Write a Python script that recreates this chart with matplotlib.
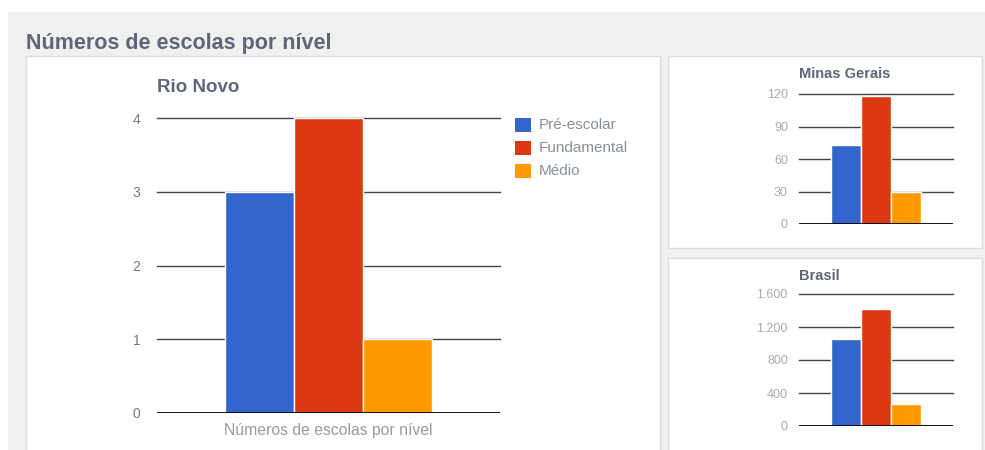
import matplotlib.pyplot as plt
from matplotlib.patches import Rectangle

# data
niveis = ['Pré-escolar', 'Fundamental', 'Médio']
cores = ['#3366cc', '#dc3912', '#ff9900']
rio_novo = [3, 4, 1]
minas_gerais = [73, 118, 30]
brasil = [1055, 1420, 265]
ticks_rio = [0, 1, 2, 3, 4]
ticks_mg = [0, 30, 60, 90, 120]
ticks_br = [0, 400, 800, 1200, 1600]
labels_br = ['0', '400', '800', '1.200', '1.600']

W, H = 985, 450
plt.rcParams['font.family'] = ['Liberation Sans', 'DejaVu Sans']
fig = plt.figure(figsize=(W / 100, H / 100), dpi=100)
fig.patch.set_facecolor('white')


def px_rect(x0, y0, x1, y1):
    # pixel box (top-left origin) -> figure fraction
    return [x0 / W, 1 - y1 / H, (x1 - x0) / W, (y1 - y0) / H]


def box(x0, y0, x1, y1, fc, ec='none', z=-1):
    l, b, w, h = px_rect(x0, y0, x1, y1)
    fig.patches.append(Rectangle((l, b), w, h, transform=fig.transFigure,
                                 facecolor=fc, edgecolor=ec, lw=1, zorder=z))


# background panels
box(8, 12, 985, 450, '#f0f0f0')
box(26, 56, 660, 452, 'white', '#dcdcdc')
box(668, 56, 982, 248, 'white', '#dcdcdc')
box(668, 258, 982, 452, 'white', '#dcdcdc')

fig.text(26 / W, 1 - 44 / H, 'Números de escolas por nível', fontsize=15.5,
         fontweight='bold', color='#5f6678', va='center', ha='left')


def bar_chart(rect, vals, ticks, tick_labels, title, title_y, xl, fs, tfs, tc, pad):
    ax = fig.add_axes(px_rect(*rect))
    ax.set_zorder(5)
    ax.set_facecolor('none')
    ax.bar(range(len(vals)), vals, width=1.0, color=cores,
           edgecolor='white', linewidth=1.0, zorder=2)
    ax.set_ylim(ticks[0], ticks[-1])
    ax.set_xlim(-xl, len(vals) - 1 + xl)
    ax.set_yticks(ticks)
    ax.set_yticklabels(tick_labels)
    ax.set_xticks([])
    for t in ticks[1:]:
        ax.axhline(t, color='#444444', lw=1.0, zorder=1, clip_on=False)
    ax.axhline(0, color='black', lw=1.3, zorder=3)
    for s in ax.spines.values():
        s.set_visible(False)
    ax.tick_params(axis='y', length=0, pad=pad, labelsize=fs, labelcolor=tc)
    fig.text(rect[0] / W, 1 - title_y / H, title, fontsize=tfs,
             fontweight='bold', color='#5f6678', va='center', ha='left')
    return ax


ax1 = bar_chart((157, 118, 500, 413), rio_novo, ticks_rio,
                [str(t) for t in ticks_rio], 'Rio Novo', 87, 1.48, 10, 13.5, '#777777', 12)
ax1.text(0.5, -0.06, 'Números de escolas por nível', transform=ax1.transAxes,
         ha='center', va='center', fontsize=11.3, color='#9a9a9a')

ax2 = bar_chart((799, 94, 953, 224), minas_gerais, ticks_mg,
                [str(t) for t in ticks_mg], 'Minas Gerais', 74, 1.57, 9, 10.5, '#aaaaaa', 8)
ax3 = bar_chart((799, 294, 953, 426), brasil, ticks_br, labels_br,
                'Brasil', 276, 1.57, 9, 10.5, '#aaaaaa', 8)

# legend
for i, (nome, c) in enumerate(zip(niveis, cores)):
    y = 125 + i * 23
    box(515, y - 7, 531, y + 7, c, z=6)
    fig.text(539 / W, 1 - y / H, nome, fontsize=11, color='#8a8f9c',
             va='center', ha='left')

fig.savefig('out.png', dpi=100, facecolor=fig.get_facecolor())
